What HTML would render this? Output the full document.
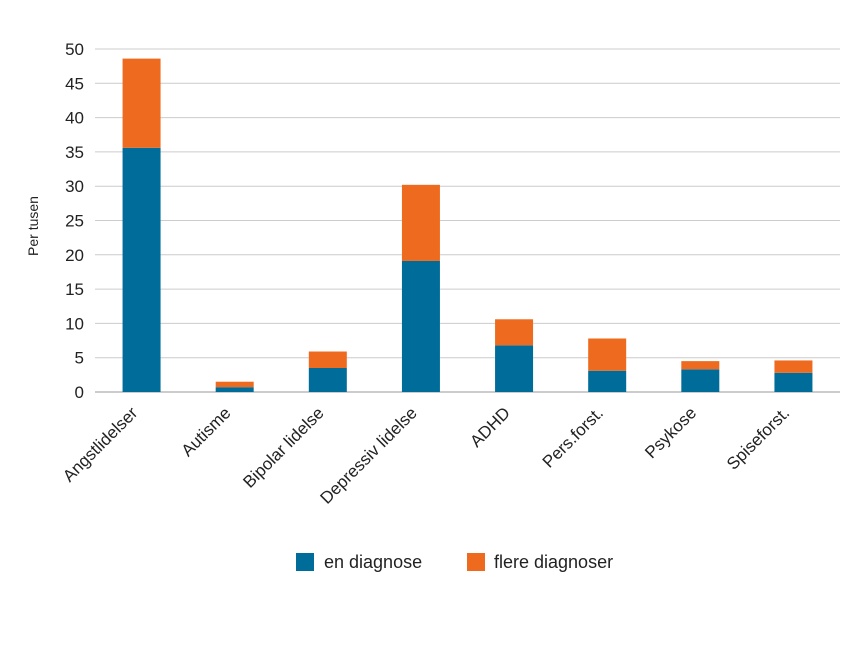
<!DOCTYPE html>
<html><head><meta charset="utf-8"><style>
body{margin:0;background:#fff;font-family:"Liberation Sans","DejaVu Sans",sans-serif;}
svg text{font-family:"Liberation Sans","DejaVu Sans",sans-serif;fill:#222;}
</style></head><body>
<svg id="chart" width="863" height="647" xmlns="http://www.w3.org/2000/svg">
<g id="grid"></g>
<g id="yticks"></g>
<g id="bars"></g>
<g id="xticks"></g>
<text transform="translate(38,226) rotate(-90)" text-anchor="middle" font-size="14">Per tusen</text>
<g>
<rect x="296" y="553" width="18" height="18" fill="#006c9a"/>
<text x="324" y="568" font-size="18">en diagnose</text>
<rect x="467" y="553" width="18" height="18" fill="#ee6a1e"/>
<text x="494" y="568" font-size="18">flere diagnoser</text>
</g>
</svg>
<script>
const categories=["Angstlidelser","Autisme","Bipolar lidelse","Depressiv lidelse","ADHD","Pers.forst.","Psykose","Spiseforst."];
const enDiagnose=[35.6,0.7,3.5,19.1,6.8,3.1,3.3,2.8];
const flereDiagnoser=[13.0,0.8,2.4,11.1,3.8,4.7,1.2,1.8];
const yTicks=[0,5,10,15,20,25,30,35,40,45,50];
const NS="http://www.w3.org/2000/svg";
const x0=95,x1=840,y0=392,y1=49,yMax=50;
const yScale=v=>y0-(v/yMax)*(y0-y1);
const band=(x1-x0)/categories.length;
const xCenter=i=>x0+band*(i+0.5);
const bw=38;
function mk(tag,attrs,parent){const e=document.createElementNS(NS,tag);for(const k in attrs)e.setAttribute(k,attrs[k]);parent.appendChild(e);return e;}
const grid=document.getElementById('grid'),yt=document.getElementById('yticks'),bars=document.getElementById('bars'),xt=document.getElementById('xticks');
yTicks.forEach(t=>{
  const l=mk('line',{x1:x0,x2:x1,y1:yScale(t),y2:yScale(t),stroke:t===0?'#999':'#ccc','stroke-width':1},grid);
  
  
  const tx=mk('text',{x:84,y:yScale(t)+6,'text-anchor':'end','font-size':17},yt);
  tx.textContent=t;
  
  
});
categories.forEach((c,i)=>{
  const cx=xCenter(i);
  const b=mk('rect',{x:cx-bw/2,y:yScale(enDiagnose[i]),width:bw,height:y0-yScale(enDiagnose[i]),fill:'#006c9a'},bars);
  
  
  const top=enDiagnose[i]+flereDiagnoser[i];
  const o=mk('rect',{x:cx-bw/2,y:yScale(top),width:bw,height:yScale(enDiagnose[i])-yScale(top),fill:'#ee6a1e'},bars);
  
  
  const t=mk('text',{transform:`translate(${cx-3},${414}) rotate(-45)`,'text-anchor':'end','font-size':17},xt);
  t.textContent=c;
  
  
});
</script>
</body></html>
